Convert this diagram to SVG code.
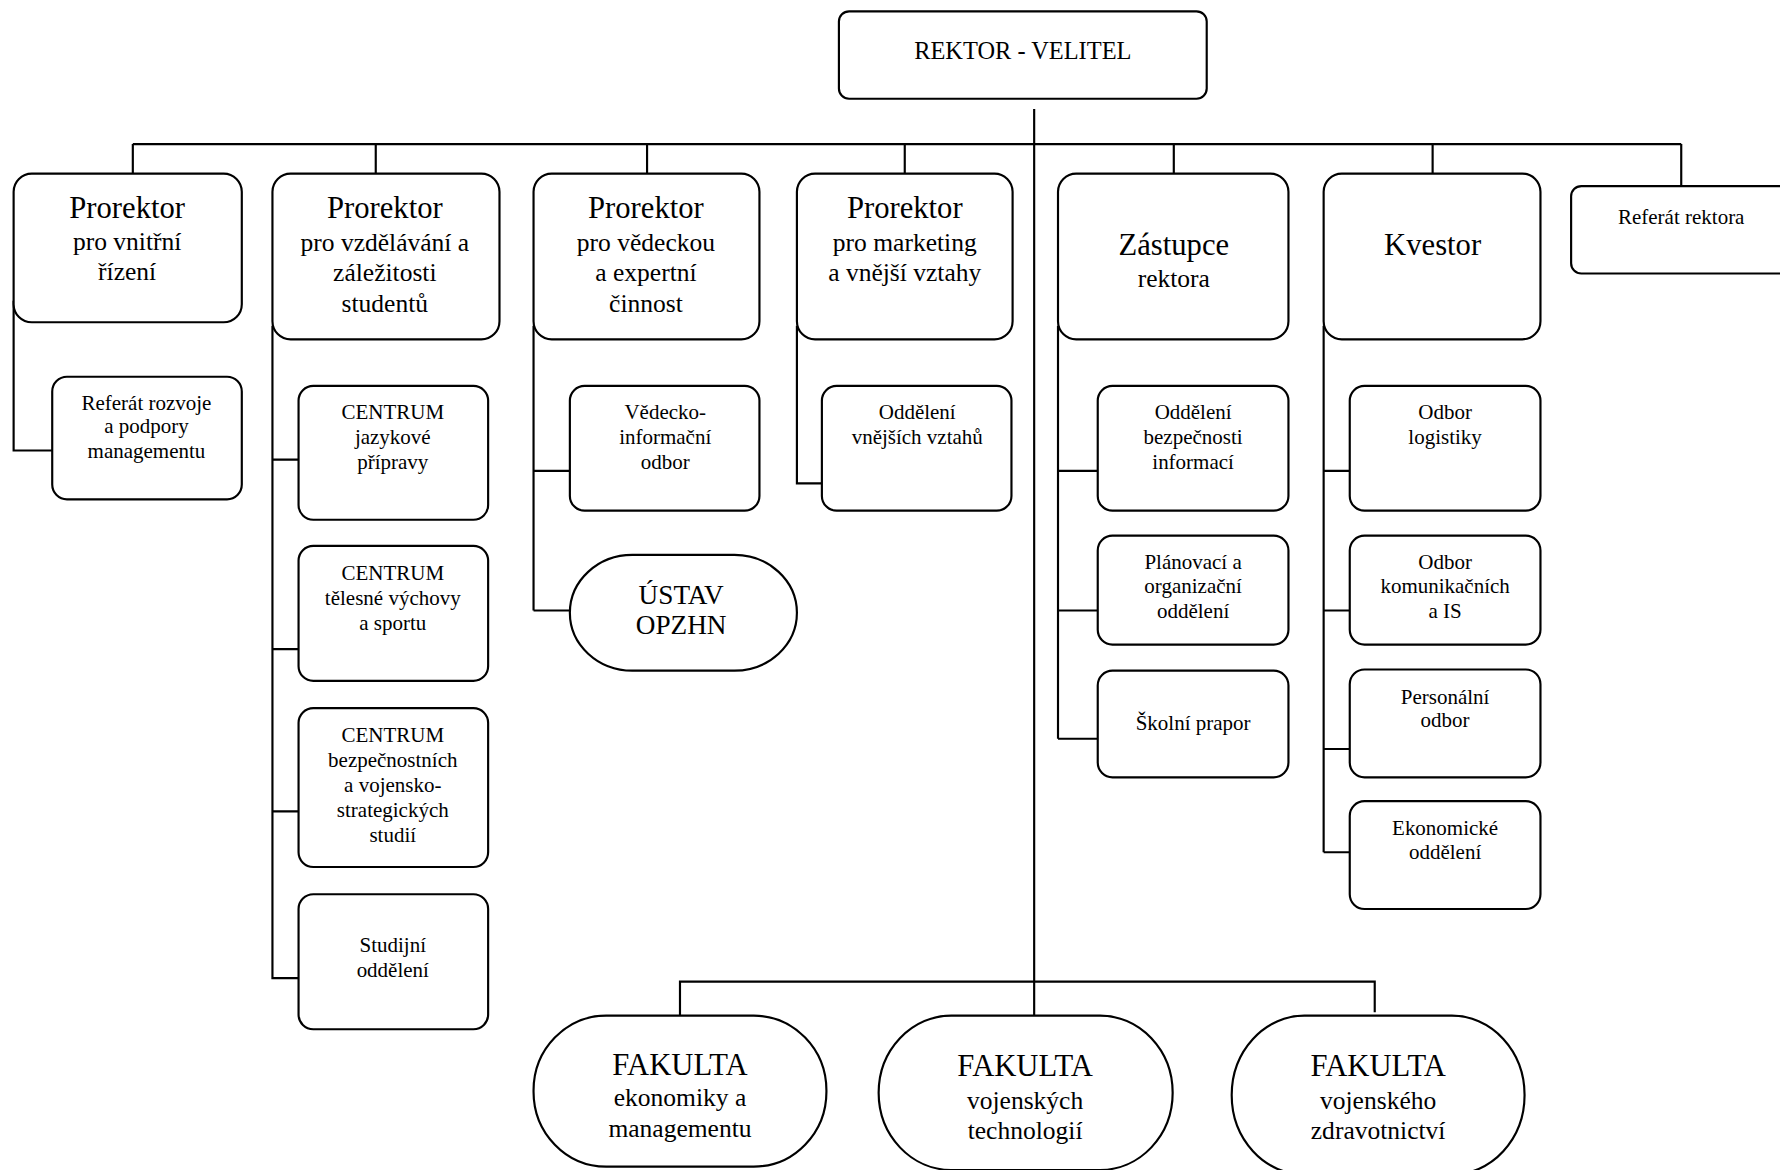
<svg xmlns="http://www.w3.org/2000/svg" width="1780" height="1170" viewBox="0 0 1780 1170">
<style>
.b{fill:#fff;stroke:#000;stroke-width:1.9}
.c{fill:none;stroke:#000;stroke-width:1.9}
text{font-family:"Liberation Serif","Times New Roman",serif;fill:#000;text-anchor:middle}
.t1{font-size:27px}
.t2{font-size:22.5px}
.t3{font-size:18.5px}
.t4{font-size:21.5px}
.t5{font-size:24px}
</style>
<rect width="1780" height="1170" fill="#fff"/>
<g transform="scale(1.1352,1.1348)">
<g id="connectors" class="c">
<path d="M911 96V895"/>
<path d="M117 127H1481"/>
<path d="M117 127V153M331 127V153M570 127V153M797 127V153M1034 127V153M1262 127V153M1481 127V164"/>
<path d="M12 265V397H46"/>
<path d="M240 287V863M240 405H263M240 572H263M240 715H263M240 862H263"/>
<path d="M470 287V538M470 415H502M470 538H502"/>
<path d="M702 287V426H724"/>
<path d="M932 287V651M932 415H967M932 538H967M932 651H967"/>
<path d="M1166 287V751M1166 415H1189M1166 538H1189M1166 660H1189M1166 751H1189"/>
<path d="M599 895V865H1211V892"/>
</g>
<g id="rektor"><rect class="b" x="739" y="10" width="324" height="77" rx="9"/><text class="t4" x="901" y="52">REKTOR - VELITEL</text></g>
<g id="prorektor1"><rect class="b" x="12" y="153" width="201" height="131" rx="16"/><text class="t1" x="112" y="192">Prorektor</text><text class="t2" x="112" y="220">pro vnitřní</text><text class="t2" x="112" y="247">řízení</text></g>
<g id="prorektor2"><rect class="b" x="240" y="153" width="200" height="146" rx="16"/><text class="t1" x="339" y="192">Prorektor</text><text class="t2" x="339" y="221">pro vzdělávání a</text><text class="t2" x="339" y="248">záležitosti</text><text class="t2" x="339" y="275">studentů</text></g>
<g id="prorektor3"><rect class="b" x="470" y="153" width="199" height="146" rx="16"/><text class="t1" x="569" y="192">Prorektor</text><text class="t2" x="569" y="221">pro vědeckou</text><text class="t2" x="569" y="248">a expertní</text><text class="t2" x="569" y="275">činnost</text></g>
<g id="prorektor4"><rect class="b" x="702" y="153" width="190" height="146" rx="16"/><text class="t1" x="797" y="192">Prorektor</text><text class="t2" x="797" y="221">pro marketing</text><text class="t2" x="797" y="248">a vnější vztahy</text></g>
<g id="zastupce"><rect class="b" x="932" y="153" width="203" height="146" rx="16"/><text class="t1" x="1034" y="225">Zástupce</text><text class="t2" x="1034" y="253">rektora</text></g>
<g id="kvestor"><rect class="b" x="1166" y="153" width="191" height="146" rx="16"/><text class="t1" x="1262" y="225">Kvestor</text></g>
<g id="referat-rektora"><rect class="b" x="1384" y="164" width="200" height="77" rx="9"/><text class="t3" x="1481" y="197">Referát rektora</text></g>
<g id="referat-rozvoje"><rect class="b" x="46" y="332" width="167" height="108" rx="13"/><text class="t3" x="129" y="361">Referát rozvoje</text><text class="t3" x="129" y="382">a podpory</text><text class="t3" x="129" y="404">managementu</text></g>
<g id="centrum-jazykove"><rect class="b" x="263" y="340" width="167" height="118" rx="13"/><text class="t3" x="346" y="369">CENTRUM</text><text class="t3" x="346" y="391">jazykové</text><text class="t3" x="346" y="413">přípravy</text></g>
<g id="centrum-telesne"><rect class="b" x="263" y="481" width="167" height="119" rx="13"/><text class="t3" x="346" y="511">CENTRUM</text><text class="t3" x="346" y="533">tělesné výchovy</text><text class="t3" x="346" y="555">a sportu</text></g>
<g id="centrum-bezpecnostnich"><rect class="b" x="263" y="624" width="167" height="140" rx="13"/><text class="t3" x="346" y="654">CENTRUM</text><text class="t3" x="346" y="676">bezpečnostních</text><text class="t3" x="346" y="698">a vojensko-</text><text class="t3" x="346" y="720">strategických</text><text class="t3" x="346" y="742">studií</text></g>
<g id="studijni"><rect class="b" x="263" y="788" width="167" height="119" rx="13"/><text class="t3" x="346" y="839">Studijní</text><text class="t3" x="346" y="861">oddělení</text></g>
<g id="vedecko"><rect class="b" x="502" y="340" width="167" height="110" rx="13"/><text class="t3" x="586" y="369">Vědecko-</text><text class="t3" x="586" y="391">informační</text><text class="t3" x="586" y="413">odbor</text></g>
<g id="ustav"><rect class="b" x="502" y="489" width="200" height="102" rx="55" ry="51"/><text class="t5" x="600" y="532">ÚSTAV</text><text class="t5" x="600" y="559">OPZHN</text></g>
<g id="vnejsi"><rect class="b" x="724" y="340" width="167" height="110" rx="13"/><text class="t3" x="808" y="369">Oddělení</text><text class="t3" x="808" y="391">vnějších vztahů</text></g>
<g id="bezpecnost"><rect class="b" x="967" y="340" width="168" height="110" rx="13"/><text class="t3" x="1051" y="369">Oddělení</text><text class="t3" x="1051" y="391">bezpečnosti</text><text class="t3" x="1051" y="413">informací</text></g>
<g id="planovaci"><rect class="b" x="967" y="472" width="168" height="96" rx="13"/><text class="t3" x="1051" y="501">Plánovací a</text><text class="t3" x="1051" y="523">organizační</text><text class="t3" x="1051" y="545">oddělení</text></g>
<g id="prapor"><rect class="b" x="967" y="591" width="168" height="94" rx="13"/><text class="t3" x="1051" y="643">Školní prapor</text></g>
<g id="logistika"><rect class="b" x="1189" y="340" width="168" height="110" rx="13"/><text class="t3" x="1273" y="369">Odbor</text><text class="t3" x="1273" y="391">logistiky</text></g>
<g id="komunikace"><rect class="b" x="1189" y="472" width="168" height="96" rx="13"/><text class="t3" x="1273" y="501">Odbor</text><text class="t3" x="1273" y="523">komunikačních</text><text class="t3" x="1273" y="545">a IS</text></g>
<g id="personalni"><rect class="b" x="1189" y="590" width="168" height="95" rx="13"/><text class="t3" x="1273" y="620">Personální</text><text class="t3" x="1273" y="641">odbor</text></g>
<g id="ekonomicke"><rect class="b" x="1189" y="706" width="168" height="95" rx="13"/><text class="t3" x="1273" y="736">Ekonomické</text><text class="t3" x="1273" y="757">oddělení</text></g>
<g id="fakulta1"><rect class="b" x="470" y="895" width="258" height="133" rx="64" ry="66"/><text class="t1" x="599" y="947">FAKULTA</text><text class="t2" x="599" y="975">ekonomiky a</text><text class="t2" x="599" y="1002">managementu</text></g>
<g id="fakulta2"><rect class="b" x="774" y="895" width="259" height="136" rx="64" ry="68"/><text class="t1" x="903" y="948">FAKULTA</text><text class="t2" x="903" y="977">vojenských</text><text class="t2" x="903" y="1004">technologií</text></g>
<g id="fakulta3"><rect class="b" x="1085" y="895" width="258" height="140" rx="64" ry="70"/><text class="t1" x="1214" y="948">FAKULTA</text><text class="t2" x="1214" y="977">vojenského</text><text class="t2" x="1214" y="1004">zdravotnictví</text></g>
</g>
</svg>
